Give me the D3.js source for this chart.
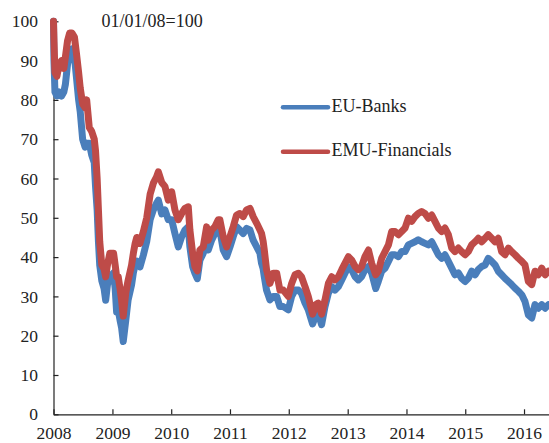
<!DOCTYPE html>
<html>
<head>
<meta charset="utf-8">
<script src="https://cdn.jsdelivr.net/npm/d3@7"></script>
<style>
    body { margin: 0; background: #fff; }
    svg text { font-family: "Liberation Serif", "Times New Roman", serif; fill: #222; }
</style>
</head>
<body>
<svg id="chart" width="549" height="443"></svg>
<script>

// ********************** //
//          Data          //
// ********************** //

var dates = [
    '2008-01-01','2008-01-04','2008-01-10','2008-01-22','2008-02-05','2008-02-20','2008-03-05','2008-03-15',
    '2008-03-28','2008-04-10','2008-04-25','2008-05-10','2008-05-22','2008-06-05','2008-06-15','2008-06-30',
    '2008-07-15','2008-07-25','2008-08-10','2008-08-25','2008-09-10','2008-09-18','2008-09-28','2008-10-06',
    '2008-10-14','2008-10-27','2008-11-10','2008-11-20','2008-12-01','2008-12-16','2009-01-08','2009-01-18',
    '2009-01-27','2009-02-06','2009-02-17','2009-02-27','2009-03-09','2009-03-25','2009-04-08','2009-04-30',
    '2009-05-11','2009-05-22','2009-06-01','2009-06-21','2009-07-12','2009-08-02','2009-08-23','2009-09-12',
    '2009-10-02','2009-10-13','2009-11-03','2009-11-23','2009-12-14','2010-01-04','2010-01-24','2010-02-14',
    '2010-03-07','2010-03-27','2010-04-17','2010-04-27','2010-05-14','2010-05-28','2010-06-12','2010-06-28',
    '2010-07-19','2010-08-09','2010-08-19','2010-09-09','2010-09-29','2010-10-20','2010-10-30','2010-11-20',
    '2010-12-11','2011-01-01','2011-01-21','2011-02-11','2011-03-03','2011-03-24','2011-04-14','2011-05-05',
    '2011-05-25','2011-06-16','2011-07-06','2011-07-16','2011-07-26','2011-08-02','2011-08-16','2011-09-06',
    '2011-09-27','2011-10-18','2011-11-07','2011-11-28','2011-12-29','2012-01-19','2012-02-09','2012-03-01',
    '2012-03-20','2012-04-11','2012-05-01','2012-05-28','2012-06-20','2012-07-02','2012-07-23','2012-08-13',
    '2012-09-03','2012-09-24','2012-10-14','2012-11-04','2012-11-25','2012-12-15','2013-01-05','2013-01-26',
    '2013-02-16','2013-03-08','2013-03-28','2013-04-18','2013-05-10','2013-05-30','2013-06-24','2013-07-10',
    '2013-07-31','2013-08-21','2013-09-11','2013-10-01','2013-10-22','2013-11-12','2013-12-02','2013-12-23',
    '2014-01-13','2014-02-02','2014-02-23','2014-03-15','2014-04-05','2014-04-26','2014-05-17','2014-06-07',
    '2014-06-27','2014-07-18','2014-08-08','2014-08-28','2014-09-18','2014-10-09','2014-10-29','2014-11-19',
    '2014-12-10','2014-12-31','2015-01-20','2015-02-10','2015-03-03','2015-03-23','2015-04-13','2015-05-04',
    '2015-05-24','2015-06-14','2015-07-05','2015-07-25','2015-08-15','2015-09-05','2015-09-26','2015-10-16',
    '2015-11-06','2015-11-27','2015-12-18','2016-01-07','2016-01-28','2016-02-18','2016-03-09','2016-03-30',
    '2016-04-20','2016-05-11','2016-06-01'
];

var euBanks = [
    100, 90, 82, 81, 82, 81, 82, 84,
    89, 92, 93, 91, 86, 80, 77, 70,
    68, 69, 69, 66, 64, 58, 52, 44,
    38, 34, 32, 29, 33, 35, 36, 32,
    26, 26.5, 24, 22, 18.5, 24, 29, 33,
    36, 38, 39, 37.5, 40.5, 44, 49.5, 52,
    53.7, 54.5, 51, 52, 49.5, 49.5, 46, 42.6,
    45.2, 46.9, 47.7, 42.6, 37.6, 35.9, 34.5, 39.2,
    41, 45.2, 41.8, 44.3, 46, 46.9, 46.9, 41.8,
    40.1, 42.6, 45.2, 47.7, 46.9, 46, 47.3, 46.9,
    44.3, 42.6, 41, 38.4, 37, 35, 31.6, 29.1,
    30, 30, 27.4, 27.4, 26.6, 30, 31.6, 31.6,
    30.8, 28.3, 26.6, 23, 25.5, 25.7, 22.8, 27.4,
    30.8, 32.5, 31.6, 32.5, 34.2, 35.9, 37.6, 36.8,
    35, 34.2, 35, 36.8, 37.6, 35.9, 32, 33.8,
    36.4, 37.2, 38.9, 40.6, 40.6, 40.1, 41.4, 41.4,
    43.1, 43.5, 43.9, 44.4, 43.9, 43.5, 43.1, 43.9,
    42.3, 40.6, 39.7, 40.6, 38.9, 37.2, 35.5, 36,
    34.6, 33.8, 34.6, 36.4, 35.5, 36.8, 37.6, 38,
    39.7, 38.9, 38, 36.4, 35.5, 34.6, 33.8, 33,
    32.1, 31.3, 30.4, 28.7, 25.3, 24.5, 27.9, 27,
    27.9, 27, 27.9
];

var emuFinancials = [
    100, 95, 87, 86, 89, 90, 88, 91,
    95, 97, 97, 96, 92, 87, 83, 79,
    78, 80, 73, 72, 70, 67, 60, 52,
    44, 38, 37, 35, 38, 41, 41, 38,
    35, 35, 32, 29, 25, 31, 34, 38,
    41, 43.5, 45, 43.5, 46.5, 50, 56, 58.8,
    60.4, 61.7, 59, 58, 54.5, 56.6, 52, 49.5,
    51.1, 52.4, 52.8, 46.9, 41, 37.6, 36.5, 41.8,
    42.6, 47.7, 44.3, 46.9, 47.7, 49.5, 49.5, 45.2,
    42.6, 45.2, 47.7, 50.7, 51.1, 50.3, 52, 52.4,
    50.3, 48.6, 46.9, 46, 44, 41.8, 36.8, 33.3,
    35.9, 35.9, 31.6, 31.6, 30, 33.3, 35.5, 35.9,
    35, 32.5, 30, 25.5, 28, 28.3, 25.5, 29.1,
    33.3, 35, 34.2, 35, 36.8, 38.4, 40.1, 39.2,
    37.6, 36.8, 37.6, 40.1, 41.8, 38.4, 35.5, 36.4,
    39.7, 41.4, 43.1, 46.5, 46.5, 45.7, 46.5, 47.4,
    49.9, 49.1, 50.3, 51.1, 51.6, 51.1, 49.9, 50.7,
    49.1, 47.4, 46.5, 47.4, 45.7, 42.3, 41.4, 42.3,
    41.4, 40.6, 41.4, 43.1, 43.9, 44.8, 43.9, 44.8,
    45.7, 44.8, 43.9, 44.8, 41.4, 40.6, 42.3, 41.4,
    40.6, 39.7, 38.9, 38, 33.8, 33, 36.4, 35.5,
    37.2, 35.5, 36.4
];

var seriesNames = ['EU-Banks', 'EMU-Financials'];
var seriesColors = ['#4a7ebb', '#be4b48'];
var yTicks = [0, 10, 20, 30, 40, 50, 60, 70, 80, 90, 100];
var baseNote = '01/01/08=100';


// ********************** //
//      Chart Drawing     //
// ********************** //

drawChart = function() {
    var svg = d3.select('#chart');
    var parse = d3.timeParse('%Y-%m-%d');
    var dt = dates.map(parse);

    var x = d3.scaleTime()
        .domain([parse('2008-01-01'), parse('2016-06-01')])
        .range([53.5, 548.5]);

    var y = d3.scaleLinear()
        .domain([0, 100])
        .range([414.3, 21.3]);

    // ***** Axes ***** //
    var xAxis = d3.axisBottom(x)
        .ticks(d3.timeYear.every(1))
        .tickFormat(d3.timeFormat('%Y'))
        .tickSizeInner(-5)
        .tickSizeOuter(0)
        .tickPadding(12);

    var yAxis = d3.axisLeft(y)
        .tickValues(yTicks)
        .tickSizeInner(-5)
        .tickSizeOuter(0)
        .tickPadding(15.5);

    var gx = svg.append('g')
        .attr('transform', 'translate(0,414.3)')
        .call(xAxis);

    var gy = svg.append('g')
        .attr('transform', 'translate(53.5,0)')
        .call(yAxis);

    [gx, gy].forEach(function(g) {
        g.selectAll('text')
            .style('font-size', '17.5px')
            .style('font-family', '"Liberation Serif", "Times New Roman", serif')
            .attr('fill', '#222');
        g.selectAll('line, path').attr('stroke', '#222').attr('stroke-width', 1.2);
    });

    // ***** Lines ***** //
    var series = [euBanks, emuFinancials];

    var line = d3.line()
        .x(function(d, i) { return x(dt[i]); })
        .y(function(d) { return y(d); });

    series.forEach(function(vals, k) {
        svg.append('path')
            .datum(vals)
            .attr('d', line)
            .attr('fill', 'none')
            .attr('stroke', seriesColors[k])
            .attr('stroke-width', 7)
            .attr('stroke-linejoin', 'round')
            .attr('stroke-linecap', 'round');
    });

    // ***** Legend ***** //
    var legendY = [107.3, 151.7];
    seriesNames.forEach(function(name, k) {
        svg.append('line')
            .attr('x1', 283).attr('x2', 328)
            .attr('y1', legendY[k]).attr('y2', legendY[k])
            .attr('stroke', seriesColors[k])
            .attr('stroke-width', 4.5)
            .attr('stroke-linecap', 'round');
        svg.append('text')
            .attr('x', 331.5)
            .attr('y', legendY[k] + 4.5)
            .style('font-size', '18px')
            .text(name);
    });

    // ***** Note ***** //
    svg.append('text')
        .attr('x', 101.5)
        .attr('y', 26.7)
        .style('font-size', '18px')
        .text(baseNote);
}

drawChart();

</script>
</body>
</html>
